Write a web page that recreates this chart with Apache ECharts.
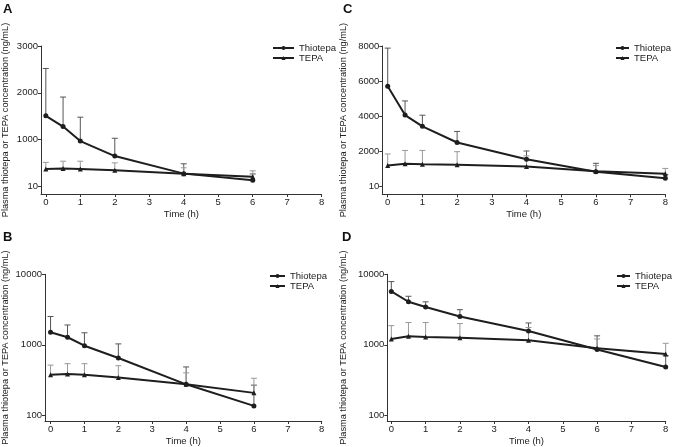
<!DOCTYPE html>
<html>
<head>
<meta charset="utf-8">
<script src="https://cdn.jsdelivr.net/npm/echarts@6/dist/echarts.min.js"></script>
<style>
  html, body { margin: 0; padding: 0; background: #fff; }
  #main { width: 677px; height: 447px; }
</style>
</head>
<body>
<div id="main"></div>
<script>
// time points (h)
var times6 = [0, 0.5, 1, 2, 4, 6];
var times8 = [0, 0.5, 1, 2, 4, 6, 8];

// panels A / B (same data, linear and log scale)
var thioAB = [1510, 1280, 970, 650, 275, 136];
var thioUpAB = [2520, 1910, 1480, 1030, 485, 268];
var tepaAB = [375, 385, 375, 345, 275, 208];
var tepaUpAB = [515, 540, 540, 505, 400, 335];

// panels C / D
var thioCD = [5720, 4080, 3440, 2520, 1570, 860, 485];
var thioUpCD = [7880, 4880, 4070, 3150, 2040, 1340, 700];
var tepaCD = [1210, 1320, 1290, 1260, 1160, 890, 740];
var tepaUpCD = [1870, 2070, 2070, 2000, 1760, 1210, 1050];

// tick labels
var xTicks = [0, 1, 2, 3, 4, 5, 6, 7, 8];
var yTicksA = [10, 1000, 2000, 3000];
var yTicksC = [10, 2000, 4000, 6000, 8000];
var yTicksLog = [100, 1000, 10000];

var yName = 'Plasma thiotepa or TEPA concentration (ng/mL)';

var FONT = 'Liberation Sans, Arial, sans-serif';
var AXIS = '#333';

function pairs(xs, ys) {
    return xs.map(function (x, i) { return [x, ys[i]]; });
}

// error bar (mean -> upper) drawn through the axis scales
function errBars(idx, xs, ys, ups, color) {
    var data = xs.map(function (x, i) { return [x, ys[i], ups[i]]; });
    return {
        type: 'custom',
        xAxisIndex: idx,
        yAxisIndex: idx,
        silent: true,
        z: 1,
        data: data,
        renderItem: function (params, api) {
            var p0 = api.coord([api.value(0), api.value(1)]);
            var p1 = api.coord([api.value(0), api.value(2)]);
            var st = { stroke: color, lineWidth: 1 };
            return {
                type: 'group',
                children: [
                    { type: 'line', shape: { x1: p0[0], y1: p0[1], x2: p1[0], y2: p1[1] }, style: st },
                    { type: 'line', shape: { x1: p1[0] - 3, y1: p1[1], x2: p1[0] + 3, y2: p1[1] }, style: st }
                ]
            };
        }
    };
}

function lineSeries(idx, name, xs, ys, symbol, size) {
    return {
        name: name,
        type: 'line',
        xAxisIndex: idx,
        yAxisIndex: idx,
        data: pairs(xs, ys),
        symbol: symbol,
        symbolSize: size,
        z: 3,
        lineStyle: { color: '#1e1e1e', width: 2 },
        itemStyle: { color: '#1e1e1e' }
    };
}

var plain = function (v) { return String(v); };

function xAxis(idx, min) {
    return {
        type: 'value',
        gridIndex: idx,
        min: min,
        max: 8,
        name: 'Time (h)',
        nameLocation: 'middle',
        nameGap: 15,
        nameTextStyle: { fontSize: 9.5, color: '#222', fontFamily: FONT },
        axisLine: { show: true, onZero: false, lineStyle: { color: AXIS, width: 1 } },
        axisTick: { show: true, length: 3, lineStyle: { color: AXIS }, customValues: xTicks },
        axisLabel: { fontSize: 9.5, color: '#222', margin: 3, fontFamily: FONT, customValues: xTicks, formatter: plain },
        splitLine: { show: false }
    };
}

function yAxis(idx, type, min, max, ticks, gap) {
    return {
        type: type,
        gridIndex: idx,
        min: min,
        max: max,
        name: yName,
        nameLocation: 'middle',
        nameGap: gap,
        nameTextStyle: { fontSize: 9.2, color: '#222', fontFamily: FONT },
        axisLine: { show: true, onZero: false, lineStyle: { color: AXIS, width: 1 } },
        axisTick: { show: true, length: 3, lineStyle: { color: AXIS }, customValues: ticks },
        axisLabel: { fontSize: 9.5, color: '#222', margin: 3, fontFamily: FONT, customValues: ticks, formatter: plain },
        splitLine: { show: false }
    };
}

function legend(left, top, w) {
    return {
        left: left,
        top: top,
        padding: 0,
        orient: 'vertical',
        itemWidth: w,
        itemHeight: 5,
        itemGap: 0,
        textStyle: { fontSize: 9.5, color: '#222', fontFamily: FONT, lineHeight: 10 },
        data: ['Thiotepa', 'TEPA']
    };
}

var myCharts = echarts.init(document.getElementById('main'));

var series = [];
// A (0), C (1), B (2), D (3)
[[times6, thioAB, thioUpAB, tepaAB, tepaUpAB],
 [times8, thioCD, thioUpCD, tepaCD, tepaUpCD],
 [times6, thioAB, thioUpAB, tepaAB, tepaUpAB],
 [times8, thioCD, thioUpCD, tepaCD, tepaUpCD]].forEach(function (d, i) {
    series.push(errBars(i, d[0], d[1], d[2], '#555'));
    series.push(errBars(i, d[0], d[3], d[4], '#999'));
    series.push(lineSeries(i, 'Thiotepa', d[0], d[1], 'circle', 5));
    series.push(lineSeries(i, 'TEPA', d[0], d[3], 'triangle', 5));
});

var option = {
    animation: false,
    backgroundColor: '#fff',
    textStyle: { fontFamily: FONT },
    title: [
        { text: 'A', left: 3, top: 3 },
        { text: 'C', left: 343, top: 3 },
        { text: 'B', left: 3, top: 231 },
        { text: 'D', left: 342, top: 231 }
    ].map(function (t) {
        t.textStyle = { fontSize: 13, fontWeight: 'bold', color: '#111', fontFamily: FONT };
        t.padding = 0;
        return t;
    }),
    legend: [legend(272, 43, 21), legend(615, 43, 13), legend(269, 271, 15), legend(616, 271, 13)],
    grid: [
        { left: 39.5, top: 46, width: 282.2, height: 148 },
        { left: 382.3, top: 46, width: 283, height: 148.3 },
        { left: 42.7, top: 274.3, width: 279, height: 148.7 },
        { left: 387.3, top: 274.3, width: 278.4, height: 148 }
    ],
    xAxis: [xAxis(0, -0.14), xAxis(1, -0.156), xAxis(2, -0.164), xAxis(3, -0.117)],
    yAxis: [
        yAxis(0, 'value', -160, 3000, yTicksA, 31),
        yAxis(1, 'value', -420, 8000, yTicksC, 34),
        yAxis(2, 'log', 83, 10000, yTicksLog, 35),
        yAxis(3, 'log', 83, 10000, yTicksLog, 39)
    ],
    series: series
};

myCharts.setOption(option);
</script>
</body>
</html>
